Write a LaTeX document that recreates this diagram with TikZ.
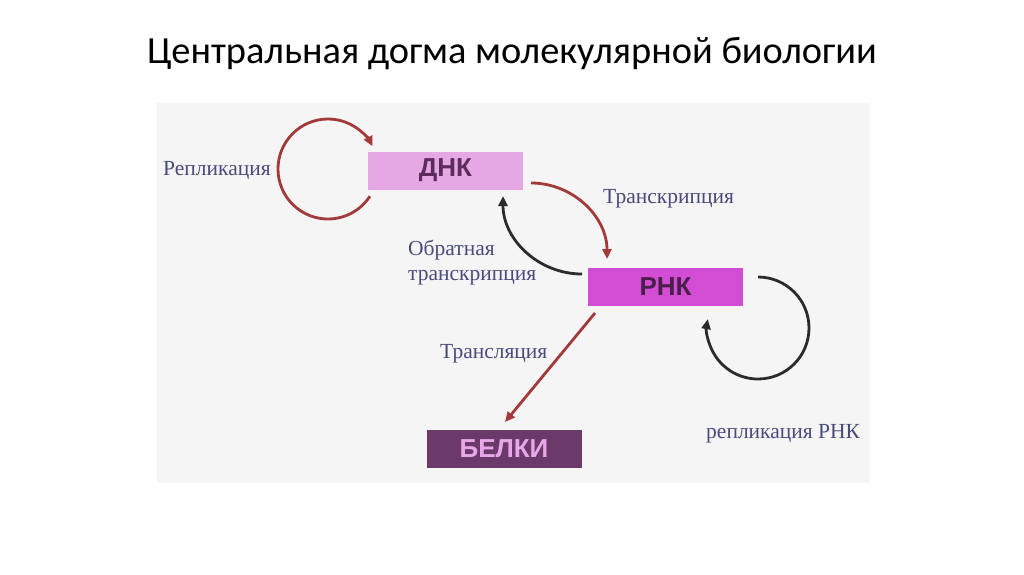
\documentclass[tikz,border=0pt]{standalone}
\usepackage{fontspec}
\newfontfamily\titlefont{Carlito}
\newfontfamily\lblfont{Liberation Serif}
\newfontfamily\boxfont{Liberation Sans}
\usetikzlibrary{arrows.meta,calc}
\definecolor{panel}{HTML}{F5F5F6}
\definecolor{dnafill}{HTML}{E6A8E4}
\definecolor{dnatext}{HTML}{5C2C5C}
\definecolor{rnafill}{HTML}{D24CD4}
\definecolor{rnatext}{HTML}{4A1F4A}
\definecolor{protfill}{HTML}{6B3A6B}
\definecolor{prottext}{HTML}{E8A8E8}
\definecolor{redarr}{HTML}{A23A3A}
\definecolor{darkarr}{HTML}{2B2B2B}
\definecolor{lbl}{HTML}{4A4A7C}
\tikzset{
  box/.style={minimum width=155pt, minimum height=38pt, inner sep=0pt,
    font=\boxfont\bfseries\fontsize{26}{30}\selectfont},
  lbltext/.style={text=lbl, inner sep=0pt, anchor=base west, font=\lblfont\fontsize{21.5}{25}\selectfont},
  redline/.style={draw=redarr, line width=2.8pt, -{Triangle[length=10pt,width=9pt]}},
  darkline/.style={draw=darkarr, line width=2.8pt, -{Triangle[length=10pt,width=9pt]}},
}
\begin{document}
\begin{tikzpicture}[x=1pt,y=-1pt]
\useasboundingbox (0,0) rectangle (1024,574);
\fill[white] (0,0) rectangle (1024,574);
\fill[panel] (157,103) rectangle (870,483);
\node[anchor=base, inner sep=0pt, font=\titlefont\fontsize{38.4}{42}\selectfont] (title) at (512,63) {Центральная догма молекулярной биологии};

\node[box, fill=dnafill, text=dnatext] (dna) at (445.5,170.5) {ДНК};
\node[box, fill=rnafill, text=rnatext] (rna) at (665.5,286.5) {РНК};
\node[box, fill=protfill, text=prottext] (prot) at (504,448.5) {БЕЛКИ};

\node[lbltext] (lrep) at (163,175) {Репликация};
\node[lbltext] (ltr) at (603,203) {Транскрипция};
\node[lbltext] (lrev1) at (408,255) {Обратная};
\node[lbltext] (lrev2) at (408,280) {транскрипция};
\node[lbltext] (ltl) at (440,358) {Трансляция};
\node[lbltext] (lrr) at (706,438) {репликация РНК};

% replication loop of DNA
\coordinate (rep0) at ($(328,169)+(33:50)$);
\draw[redline] (rep0) arc[start angle=33, end angle=333, radius=50];
% transcription
\coordinate (tr0) at (531,183);
\coordinate (tr1) at (607,259);
\draw[redline] (tr0) to[out=0,in=90] (tr1);
% reverse transcription
\coordinate (rv0) at (582,274);
\coordinate (rv1) at (503,196);
\draw[darkline] (rv0) to[out=180,in=-90] (rv1);
% translation
\coordinate (tl0) at (595,313);
\coordinate (tl1) at (505,422);
\draw[redline] (tl0) -- (tl1);
% RNA replication loop
\coordinate (rr0) at (758,277);
\draw[darkline] (rr0) arc[start angle=-90, end angle=190, radius=51];
\end{tikzpicture}
\end{document}
